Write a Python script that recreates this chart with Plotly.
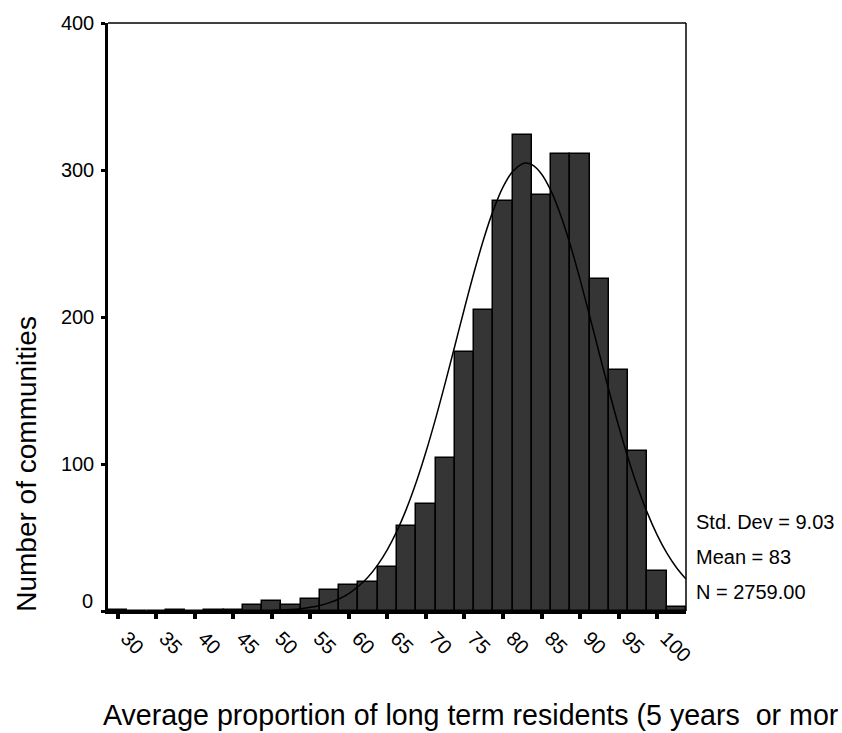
import plotly.graph_objects as go

# Histogram bins (centres, width 2.5) and counts
BIN_CENTERS = [30, 32.5, 35, 37.5, 40, 42.5, 45, 47.5, 50, 52.5, 55, 57.5, 60, 62.5,
               65, 67.5, 70, 72.5, 75, 77.5, 80, 82.5, 85, 87.5, 90, 92.5, 95, 97.5,
               100, 102.5]
COUNTS = [1, 0, 0, 1, 0, 1, 1, 4, 7, 4, 8, 14, 18, 20,
          30, 58, 73, 104, 176, 205, 279, 324, 283, 311, 311, 226, 164, 109,
          27, 3]

# Normal curve
CURVE_X = [50, 51.25, 52.5, 53.75, 55, 56.25, 57.5, 58.75, 60, 61.25, 62.5, 63.75,
           65, 66.25, 67.5, 68.75, 70, 71.25, 72.5, 73.75, 75, 76.25, 77.5, 78.75,
           80, 81.25, 82.5, 83, 83.75, 85, 86.25, 87.5, 88.75, 90, 91.25, 92.5,
           93.75, 95, 96.25, 97.5, 98.75, 100, 101.25, 102.5, 103.75]
CURVE_Y = [0.4, 0.6, 1.0, 1.6, 2.5, 3.8, 5.7, 8.3, 11.9, 16.8, 23.2, 31.4,
           41.8, 54.5, 69.8, 87.7, 108.1, 130.7, 155.0, 180.3, 205.8, 230.4, 253.1, 272.7,
           288.3, 299.0, 304.2, 304.7, 303.6, 297.3, 285.6, 269.1, 248.8, 225.6, 200.7, 175.2,
           150.0, 126.0, 103.8, 83.9, 66.6, 51.8, 39.5, 29.6, 21.7]

X_TICKS = [30, 35, 40, 45, 50, 55, 60, 65, 70, 75, 80, 85, 90, 95, 100]
Y_TICKS = [0, 100, 200, 300, 400]
Y_TICKTEXT = ["", "100", "200", "300", "400"]

STATS = ["Std. Dev = 9.03", "Mean = 83", "N = 2759.00"]
# the reference shows the x title cut at the right edge of the image
X_TITLE = "Average proportion of long term residents (5 years\u00a0 or mor"
Y_TITLE = "Number of communities"

FONT = "Liberation Sans, Arial, sans-serif"

fig = go.Figure()
fig.add_trace(go.Bar(
    x=BIN_CENTERS, y=COUNTS, width=2.5,
    marker=dict(color="#353535", line=dict(color="black", width=1.5)),
    showlegend=False, hoverinfo="x+y",
))
fig.add_trace(go.Scatter(
    x=CURVE_X, y=CURVE_Y, mode="lines", line=dict(color="black", width=1.5, shape="spline"),
    showlegend=False, hoverinfo="skip",
))

# plot area in pixels: x 108..686, y 20..611
L, R, T, B = 108, 156, 20, 122
PW, PH = 842 - L - R, 733 - T - B

def px(x):
    return (x - L) / PW

def py(y):
    return (733 - B - y) / PH

annotations = [
    dict(text=Y_TITLE, x=px(27), y=py(463), xref="paper", yref="paper",
         textangle=-90, showarrow=False, xanchor="center", yanchor="middle",
         font=dict(size=28, color="black", family=FONT)),
    dict(text=X_TITLE, x=px(101), y=py(716), xref="paper", yref="paper",
         showarrow=False, xanchor="left", yanchor="middle",
         font=dict(size=28.6, color="black", family=FONT)),
    dict(text="0", x=px(95), y=py(601), xref="paper", yref="paper",
         showarrow=False, xanchor="right", yanchor="middle",
         font=dict(size=20, color="black", family=FONT)),
]
for s, yy in zip(STATS, [522, 557, 592]):
    annotations.append(dict(text=s, x=px(694), y=py(yy), xref="paper", yref="paper",
                            showarrow=False, xanchor="left", yanchor="middle",
                            font=dict(size=20, color="black", family=FONT)))

fig.update_layout(
    width=842, height=733,
    margin=dict(l=L, r=R, t=T, b=B, pad=0),
    paper_bgcolor="white", plot_bgcolor="white",
    bargap=0,
    font=dict(family=FONT, size=20, color="black"),
    xaxis=dict(range=[28.75, 103.75], tickvals=X_TICKS, ticktext=[str(v) for v in X_TICKS],
               tickangle=45, ticks="outside", ticklen=5, tickwidth=4, tickcolor="black",
               ticklabelshift=9,
               showline=True, linecolor="black", linewidth=2.5, showgrid=False,
               zeroline=False, tickfont=dict(size=20, family=FONT)),
    yaxis=dict(range=[0, 400], tickvals=Y_TICKS, ticktext=Y_TICKTEXT,
               ticks="outside", ticklen=4, tickwidth=3, tickcolor="black",
               ticklabelstandoff=3,
               showline=True, linecolor="black", linewidth=2.5, showgrid=False,
               zeroline=False, tickfont=dict(size=20, family=FONT)),
    shapes=[
        dict(type="line", xref="paper", yref="paper", x0=0, x1=1, y0=1, y1=1,
             line=dict(color="black", width=1.5)),
        dict(type="line", xref="paper", yref="paper", x0=1, x1=1, y0=0, y1=1,
             line=dict(color="black", width=1.5)),
    ],
    annotations=annotations,
)

fig.write_html("out.html")
